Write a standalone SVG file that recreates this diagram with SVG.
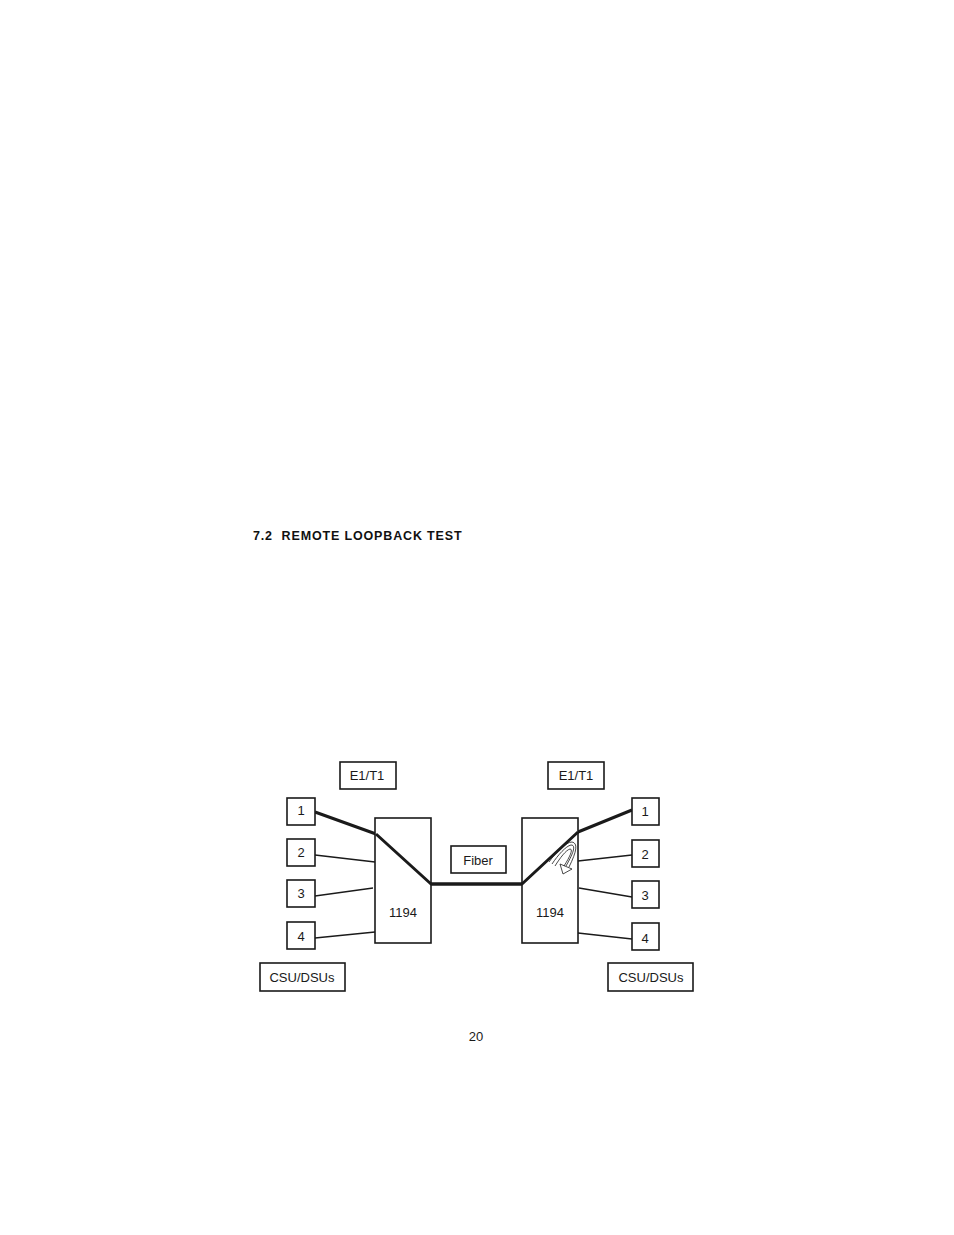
<svg xmlns="http://www.w3.org/2000/svg" width="954" height="1235" viewBox="0 0 954 1235">
<style>
.bx{fill:#fff;stroke:#1a1a1a;stroke-width:1.6}
.t{font-family:"Liberation Sans",Arial,sans-serif;font-size:13px;fill:#1a1a1a;text-anchor:middle}
.thin{stroke:#1a1a1a;stroke-width:1.3;fill:none}
.thick{stroke:#1a1a1a;stroke-width:3;fill:none;stroke-linejoin:round}
.ar{stroke:#1a1a1a;stroke-width:0.8;fill:none}
</style>
<rect width="954" height="1235" fill="#fff"/>
<text x="253" y="540" xml:space="preserve" font-family="'Liberation Sans',Arial,sans-serif" font-size="12.5" font-weight="bold" letter-spacing="0.85" fill="#111">7.2  REMOTE LOOPBACK TEST</text>
<g id="connectors">
<polyline class="thick" points="315,812 376,834 431,884 522,884 578,832 632,810"/>
<line class="thin" x1="315" y1="855" x2="375" y2="862"/>
<line class="thin" x1="315" y1="896" x2="373" y2="888"/>
<line class="thin" x1="315" y1="938" x2="375" y2="932"/>
<line class="thin" x1="578" y1="861" x2="632" y2="855"/>
<line class="thin" x1="579" y1="888" x2="632" y2="897"/>
<line class="thin" x1="578" y1="933" x2="632" y2="939"/>
</g>
<g id="box1194L"><rect class="bx" x="375" y="818" width="56" height="125"/><text class="t" x="403" y="917">1194</text></g>
<g id="box1194R"><rect class="bx" x="522" y="818" width="56" height="125"/><text class="t" x="550" y="917">1194</text></g>
<polyline class="thick" points="376,834 431,884 522,884 578,832"/>
<g id="loopArrow">
<path class="ar" d="M552,864 C558,855 566,846 571,845 C576,845 574,852 566,866"/>
<path class="ar" d="M555,866 C560,858 566,850 570,849 C573,849 571,855 564,866"/>
<path class="ar" d="M549,862 C556,852 566,842 572,842 C578,843 577,851 569,867"/>
<path class="ar" d="M560,864 L572,869 L563,874 Z" fill="#fff"/>
</g>
<g id="e1t1L"><rect class="bx" x="340" y="762" width="56" height="27"/><text class="t" x="367" y="780">E1/T1</text></g>
<g id="e1t1R"><rect class="bx" x="548" y="762" width="56" height="27"/><text class="t" x="576" y="780">E1/T1</text></g>
<g id="fiber"><rect class="bx" x="451" y="846" width="55" height="27"/><text class="t" x="478" y="865">Fiber</text></g>
<g id="L1"><rect class="bx" x="287" y="798" width="28" height="27"/><text class="t" x="301" y="815">1</text></g>
<g id="L2"><rect class="bx" x="287" y="839" width="28" height="27"/><text class="t" x="301" y="857">2</text></g>
<g id="L3"><rect class="bx" x="287" y="880" width="28" height="27"/><text class="t" x="301" y="898">3</text></g>
<g id="L4"><rect class="bx" x="287" y="922" width="28" height="27"/><text class="t" x="301" y="941">4</text></g>
<g id="R1"><rect class="bx" x="632" y="798" width="27" height="27"/><text class="t" x="645" y="816">1</text></g>
<g id="R2"><rect class="bx" x="632" y="840" width="27" height="27"/><text class="t" x="645" y="859">2</text></g>
<g id="R3"><rect class="bx" x="632" y="881" width="27" height="27"/><text class="t" x="645" y="900">3</text></g>
<g id="R4"><rect class="bx" x="632" y="923" width="27" height="27"/><text class="t" x="645" y="943">4</text></g>
<g id="csuL"><rect class="bx" x="260" y="963" width="85" height="28"/><text class="t" x="302" y="982">CSU/DSUs</text></g>
<g id="csuR"><rect class="bx" x="608" y="963" width="85" height="28"/><text class="t" x="651" y="982">CSU/DSUs</text></g>
<text class="t" x="476" y="1041">20</text>
</svg>
